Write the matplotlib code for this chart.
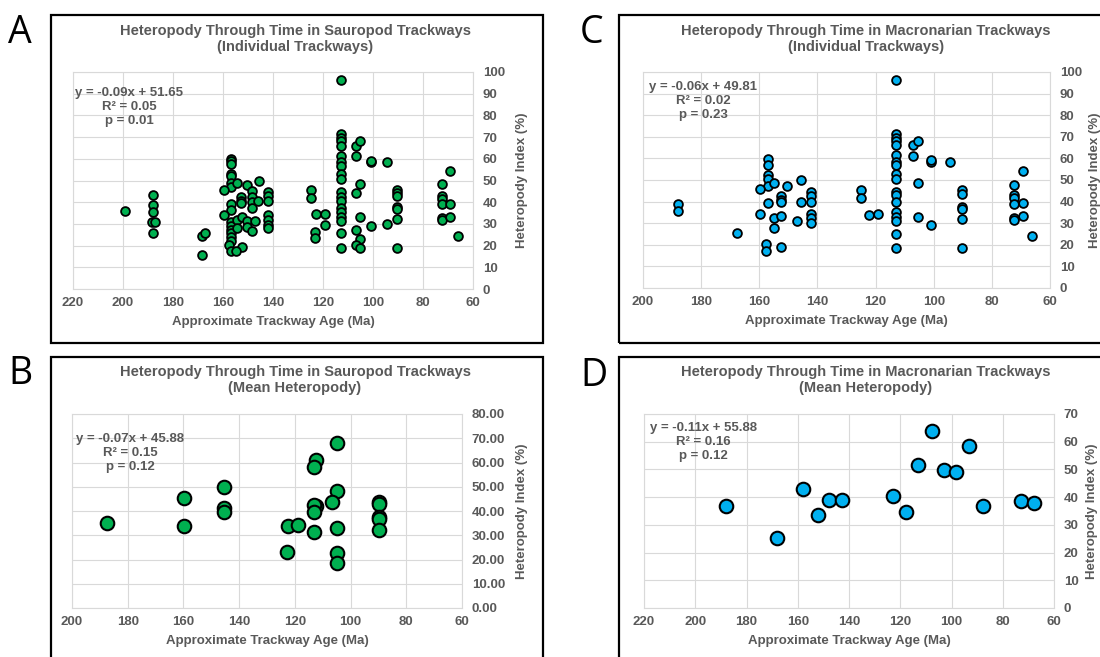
import matplotlib
matplotlib.use("Agg")
import matplotlib.pyplot as plt
from matplotlib.patches import Rectangle
from matplotlib.ticker import FormatStrFormatter

plt.rcParams['font.family'] = ['Liberation Sans', 'DejaVu Sans']
plt.rcParams['font.weight'] = 'bold'
plt.rcParams['axes.labelweight'] = 'bold'

W, H = 1100, 657
GREEN = "#00B050"
BLUE = "#00B0F0"
GREY = "#595959"
GRID = "#D9D9D9"

# A: sauropod trackways, one point per trackway
sauro_age = [199.3,
             188.0, 188.0, 188.0, 188.3, 187.3, 188.0,
             168.4, 167.2, 168.4,
             157.0, 157.0, 157.0, 157.0, 157.0, 157.0, 157.0, 157.0, 157.0,
             157.0, 157.0, 157.0, 157.0, 157.0, 157.0, 157.8, 157.0,
             159.5, 159.7, 154.6,
             152.8, 152.8, 152.8,
             150.5, 148.5, 148.5, 148.5, 148.5, 145.6, 145.9,
             142.1, 142.1, 142.1, 142.1, 142.1, 142.1, 142.1,
             154.5, 152.5, 150.5, 154.5, 150.5, 148.5, 147.2,
             152.5, 154.8,
             124.9, 124.9, 122.7, 119.2, 119.2, 123.1, 123.1,
             112.9, 112.9, 112.9, 112.9, 112.9, 112.9, 112.9, 112.9, 112.9, 112.9,
             112.9, 112.9, 112.9, 112.9, 112.9, 112.9, 112.9, 112.9, 112.9,
             106.9, 105.2, 106.9, 100.9, 100.9, 94.4, 105.2, 106.9,
             105.2, 100.9, 94.4, 106.9, 105.2, 106.9, 105.2,
             90.4, 90.4, 90.4, 90.4, 90.4, 90.4, 90.4,
             72.4, 72.4, 72.4, 72.4, 72.4, 72.4,
             69.3, 69.3, 69.3, 66.0]
sauro_hi = [36.0,
            43.5, 38.8, 35.7, 31.0, 31.0, 25.7,
            24.5, 25.7, 15.7,
            60.0, 58.8, 57.5, 53.1, 51.9, 48.9, 47.1, 39.4, 36.5,
            31.1, 29.1, 27.3, 25.7, 23.9, 22.3, 20.3, 17.3,
            45.8, 34.3, 48.8,
            42.3, 40.6, 39.6,
            47.7, 45.1, 42.3, 40.0, 37.4, 50.0, 40.6,
            44.6, 42.8, 40.4, 34.3, 32.0, 29.6, 28.1,
            31.8, 33.2, 31.5, 28.1, 28.4, 26.6, 31.2,
            19.2, 17.3,
            45.6, 41.8, 34.4, 34.7, 29.4, 26.4, 23.6,
            96.5, 71.4, 69.8, 68.3, 66.1, 61.3, 58.4, 56.9, 52.9, 50.7,
            44.5, 42.5, 40.5, 37.5, 35.3, 33.3, 31.4, 25.6, 19.0,
            66.0, 68.3, 61.3, 58.4, 59.2, 58.4, 48.4, 44.1,
            33.0, 29.1, 29.9, 27.4, 23.0, 20.5, 19.0,
            45.7, 44.2, 42.9, 38.0, 36.8, 32.3, 19.1,
            48.2, 42.9, 41.4, 39.1, 32.6, 31.8,
            54.2, 39.2, 33.4, 24.2]

# C: macronarian trackways, one point per trackway
macro_age = [188.0, 188.0,
             167.7,
             157.1, 157.1, 157.1, 157.1, 157.1, 157.1, 157.7, 157.7,
             159.7, 159.7, 154.8, 150.4, 145.7,
             152.5, 152.5, 152.5,
             145.7,
             142.3, 142.3, 142.3, 142.3, 142.3, 142.3,
             155.0, 152.5, 154.8, 146.9, 152.5,
             125.1, 125.1, 122.4, 119.2,
             113.0, 113.0, 113.0, 113.0, 113.0, 113.0, 113.0, 113.0, 113.0,
             113.0, 113.0, 113.0, 113.0, 113.0, 113.0, 113.0, 113.0, 113.0,
             107.1, 105.3, 107.1, 100.9, 100.9, 94.3, 105.3, 105.3, 100.9,
             90.3, 90.3, 90.3, 90.3, 90.3, 90.3,
             72.4, 72.4, 72.4, 72.4, 72.4, 72.4,
             69.2, 69.2, 69.2, 66.3]
macro_hi = [38.8, 35.7,
            25.4,
            59.5, 56.9, 52.3, 50.3, 47.2, 39.2, 20.3, 17.2,
            45.7, 34.3, 48.5, 47.4, 50.0,
            42.6, 40.8, 39.6,
            39.7,
            44.6, 42.8, 40.0, 34.3, 32.3, 30.0,
            32.3, 33.5, 28.0, 30.8, 18.9,
            45.3, 41.7, 34.0, 34.4,
            96.3, 71.1, 69.6, 68.1, 66.2, 61.6, 58.5, 56.9, 52.6,
            50.4, 44.6, 43.0, 39.9, 35.3, 33.0, 31.1, 25.2, 18.6,
            66.2, 68.2, 61.3, 58.5, 59.3, 58.2, 48.4, 33.0, 29.1,
            45.6, 43.3, 37.6, 36.8, 31.9, 18.7,
            47.9, 42.9, 41.7, 39.1, 32.4, 31.6,
            54.1, 39.4, 33.3, 24.0]

# B: sauropod mean heteropody per site
sauro_mean_age = [187.5, 159.7, 159.7, 145.3, 145.3, 145.3,
                  122.9, 122.3, 118.8, 112.5, 113.1, 112.5, 113.1, 113.1, 113.1,
                  104.9, 104.9, 106.8, 104.9, 104.9, 104.9,
                  89.9, 89.9, 89.9, 89.9, 89.9]
sauro_mean_hi = [35.1, 45.5, 33.7, 49.9, 41.2, 39.5,
                 23.0, 34.0, 34.4, 61.0, 58.2, 42.0, 42.3, 39.4, 31.4,
                 68.0, 48.1, 43.6, 33.1, 22.6, 18.5,
                 43.9, 42.9, 37.7, 36.6, 32.0]

# D: macronarian mean heteropody per site
macro_mean_age = [187.9, 168.2, 157.9, 152.0, 148.0, 142.8, 122.9, 117.8,
                  113.0, 107.8, 102.8, 98.2, 93.1, 87.7, 72.7, 67.7]
macro_mean_hi = [36.9, 25.4, 43.0, 33.4, 38.8, 39.1, 40.5, 34.6,
                 51.6, 63.8, 49.8, 49.0, 58.4, 36.8, 38.6, 37.8]

fig = plt.figure(figsize=(W / 100, H / 100), dpi=100)


def px_axes(left, top, right, bottom):
    return fig.add_axes([left / W, 1 - bottom / H, (right - left) / W, (bottom - top) / H])


def frame(left, top, right, bottom):
    fig.patches.append(Rectangle((left / W, 1 - bottom / H), (right - left) / W, (bottom - top) / H,
                                 transform=fig.transFigure, fill=False, ec='black', lw=1.6))


def panel(box, plot, letter, letter_xy, title, title_xy, ages, vals, color, msize, edge,
          xmax, ymax, ystep, yfmt, eq, eq_xy, ylabelpad=8):
    frame(*box)
    fig.text(letter_xy[0] / W, 1 - letter_xy[1] / H, letter, fontsize=27, fontweight='normal',
             family=['Open Sans', 'DejaVu Sans'], ha='left', va='top', color='black')
    fig.text(title_xy[0] / W, 1 - title_xy[1] / H, title, fontsize=10.5, color=GREY,
             fontweight='bold', ha='center', va='center', linespacing=1.2)
    ax = px_axes(*plot)
    ax.scatter(ages, vals, s=msize, c=color, edgecolors='black', linewidths=edge, zorder=3,
               clip_on=False)
    ax.set_xlim(xmax, 60)
    ax.set_xticks(range(60, xmax + 1, 20))
    ax.set_ylim(0, ymax)
    ax.set_yticks([ystep * i for i in range(int(round(ymax / ystep)) + 1)])
    ax.yaxis.set_major_formatter(FormatStrFormatter(yfmt))
    ax.yaxis.tick_right()
    ax.yaxis.set_label_position('right')
    ax.tick_params(length=0, labelcolor=GREY, labelsize=9.5)
    ax.tick_params(axis='x', pad=6)
    ax.tick_params(axis='y', pad=7)
    for lab in ax.get_xticklabels() + ax.get_yticklabels():
        lab.set_fontweight('bold')
    ax.grid(True, color=GRID, lw=0.8)
    ax.set_axisbelow(True)
    for sp in ax.spines.values():
        sp.set_color(GRID)
        sp.set_linewidth(0.8)
    ax.set_xlabel('Approximate Trackway Age (Ma)', fontsize=9.5, color=GREY,
                  fontweight='bold', labelpad=5)
    ax.set_ylabel('Heteropody Index (%)', fontsize=9.5, color=GREY,
                  fontweight='bold', labelpad=ylabelpad)
    fig.text(eq_xy[0] / W, 1 - eq_xy[1] / H, eq, fontsize=9.5, color=GREY, fontweight='bold',
             ha='center', va='center', multialignment='center', linespacing=1.25)
    return ax


panel((51, 15, 543, 343), (73, 72, 473, 289), 'A', (8, 14),
      'Heteropody Through Time in Sauropod Trackways\n(Individual Trackways)', (295, 39),
      sauro_age, sauro_hi, GREEN, 40, 1.3, 220, 100, 10, '%d',
      'y = -0.09x + 51.65\nR² = 0.05\np = 0.01', (129, 107))

panel((619, 15, 1112, 343), (643, 72, 1050, 288), 'C', (580, 14),
      'Heteropody Through Time in Macronarian Trackways\n(Individual Trackways)', (866, 39),
      macro_age, macro_hi, BLUE, 40, 1.3, 200, 100, 10, '%d',
      'y = -0.06x + 49.81\nR² = 0.02\np = 0.23', (703, 101), ylabelpad=5)

panel((51, 357, 543, 670), (72, 414, 462, 608), 'B', (8, 355),
      'Heteropody Through Time in Sauropod Trackways\n(Mean Heteropody)', (295, 380),
      sauro_mean_age, sauro_mean_hi, GREEN, 95, 1.5, 200, 80, 10, '%.2f',
      'y = -0.07x + 45.88\nR² = 0.15\np = 0.12', (130, 453))

panel((619, 357, 1112, 670), (644, 414, 1054, 608), 'D', (580, 357),
      'Heteropody Through Time in Macronarian Trackways\n(Mean Heteropody)', (866, 380),
      macro_mean_age, macro_mean_hi, BLUE, 95, 1.5, 220, 70, 10, '%d',
      'y = -0.11x + 55.88\nR² = 0.16\np = 0.12', (703, 442), ylabelpad=5)

fig.savefig('out.png', dpi=100)
